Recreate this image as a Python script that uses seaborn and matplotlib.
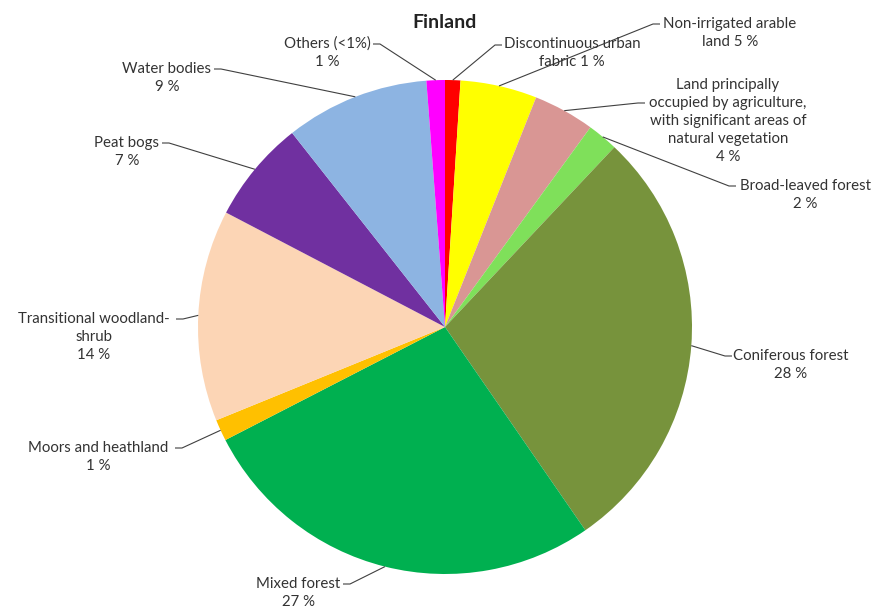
import numpy as np
import matplotlib
matplotlib.use("Agg")
import matplotlib.pyplot as plt
import seaborn as sns

# ---- data ----
categories = [
    "Discontinuous urban\nfabric",
    "Non-irrigated arable\nland",
    "Land principally\noccupied by agriculture,\nwith significant areas of\nnatural vegetation\n",
    "Broad-leaved forest\n",
    "Coniferous forest\n",
    "Mixed forest\n",
    "Moors and heathland\n",
    "Transitional woodland-\nshrub\n",
    "Peat bogs\n",
    "Water bodies\n",
    "Others (<1%)\n",
]
values = [1.0, 5.0, 4.0, 2.0, 28.3, 27.0, 1.4, 13.8, 6.7, 9.4, 1.2]
colors = ["#FF0000", "#FFFF00", "#D99694", "#7FE05A", "#77933C", "#00B050",
          "#FFC000", "#FCD5B5", "#7030A0", "#8DB4E2", "#FF00FF"]
title = "Finland"

# label layout (image pixel coords): text centre and leader anchor
label_centres = [(572, 53), (730, 33), (728, 121), (805, 195), (791, 365), (298, 593),
                 (98, 457), (94, 337), (127, 152), (167, 78), (327, 53)]
label_anchors = [(502, 45), (660, 24), (645, 103), (736, 186), (732, 356), (343, 584),
                 (175, 448), (176, 319), (162, 143), (214, 69), (373, 44)]

W, H = 883, 613
sns.set_theme(style="white")
plt.rcParams['font.family'] = ['Lato', 'DejaVu Sans']

fig = plt.figure(figsize=(W / 100, H / 100), dpi=100)
ax = fig.add_axes([0, 0, 1, 1])

cx, cy, r = 445, H - 327, 247
wedges, _ = ax.pie(values, colors=colors, startangle=90, counterclock=False,
                   center=(cx, cy), radius=r, frame=True,
                   wedgeprops=dict(linewidth=0))
ax.set_xlim(0, W)
ax.set_ylim(0, H)
ax.set_aspect('equal')
ax.axis('off')

total = sum(values)
line_col = "#404040"
for w, cat, v, (tx, ty), (axx, ayy) in zip(wedges, categories, values,
                                            label_centres, label_anchors):
    pct = round(v / total * 100)
    sep = " " if not cat.endswith("\n") else ""
    txt = f"{cat}{sep}{pct} %"
    ax.text(tx, H - ty, txt, ha='center', va='center', fontsize=10.8,
            color="#333333", linespacing=1.38)
    mid = np.deg2rad((w.theta1 + w.theta2) / 2)
    ex, ey = cx + r * np.cos(mid), cy + r * np.sin(mid)
    ax_, ay_ = axx, H - ayy
    elbow_dx = 7 if ex > ax_ else -7
    ax.plot([ex, ax_ + elbow_dx, ax_], [ey, ay_, ay_], color=line_col, lw=0.8,
            solid_capstyle='butt')

ax.text(445, H - 22, title, ha='center', va='center', fontsize=14,
        fontweight='bold', color="#222222")

fig.savefig("out.png", dpi=100)
